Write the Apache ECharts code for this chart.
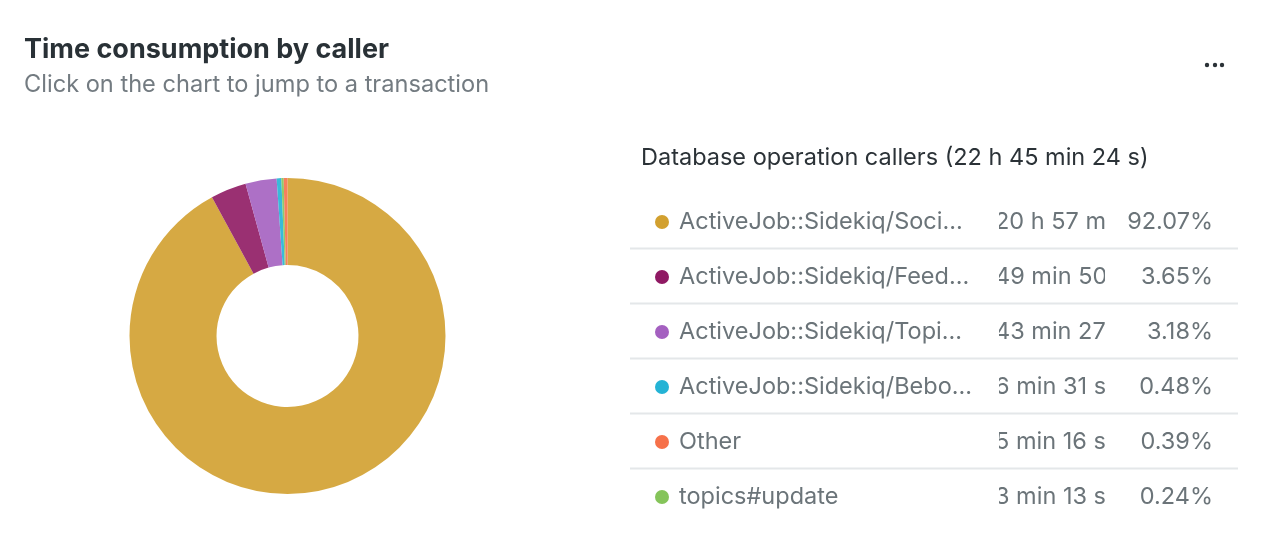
<!DOCTYPE html>
<html><head><meta charset="utf-8">
<script src="https://cdn.jsdelivr.net/npm/echarts@6/dist/echarts.min.js"></script>
<style>html,body{margin:0;padding:0;background:#fff}#c{width:1268px;height:552px}</style>
</head><body><div id="c"></div>
<script>
const callers = ['ActiveJob::Sidekiq/Soci...', 'ActiveJob::Sidekiq/Feed...', 'ActiveJob::Sidekiq/Topi...', 'ActiveJob::Sidekiq/Bebo...', 'Other', 'topics#update'];
const seconds = [75427, 2990, 2607, 391, 316, 193];
const durations = ['20 h 57 min 7 s', '49 min 50 s', '43 min 27 s', '6 min 31 s', '5 min 16 s', '3 min 13 s'];
const percents = ['92.07%', '3.65%', '3.18%', '0.48%', '0.39%', '0.24%'];
const colors = ['#D2A02F', '#8F1963', '#A460C0', '#24B3D5', '#F6714A', '#85C45A'];
const pieOrder = [0, 1, 2, 3, 5, 4];
const titleText = 'Time consumption by caller';
const subtitleText = 'Click on the chart to jump to a transaction';
const headerText = 'Database operation callers (22 h 45 min 24 s)';

const FONT = 'Inter, "Noto Sans", sans-serif';
const chart = echarts.init(document.getElementById('c'), null, {renderer: 'canvas'});

const g = [];
g.push({type: 'text', x: 24, y: 50, style: {text: titleText, fill: '#293136', font: 'bold 27px ' + FONT, textVerticalAlign: 'middle'}, silent: true});
g.push({type: 'text', x: 24, y: 85, style: {text: subtitleText, fill: '#737b81', font: '23.6px ' + FONT, textVerticalAlign: 'middle'}, silent: true});
const rowY0 = 222, rowH = 55;
const RF = '23.5px ' + FONT;
callers.forEach((name, i) => {
  const y = rowY0 + rowH * i;
  g.push({type: 'circle', shape: {cx: 662, cy: y, r: 7}, style: {fill: colors[i]}, silent: true});
  g.push({type: 'text', x: 679, y: y, style: {text: name, fill: '#6b7479', font: RF, textVerticalAlign: 'middle', textAlign: 'left'}, silent: true});
  g.push({type: 'text', x: 995, y: y, style: {text: durations[i], fill: '#6b7479', font: RF, textVerticalAlign: 'middle', textAlign: 'left'}, silent: true});
});
// clip the duration column
g.push({type: 'rect', shape: {x: 984, y: 195, width: 15, height: 320}, style: {fill: '#fff'}, silent: true});
g.push({type: 'rect', shape: {x: 1105, y: 195, width: 140, height: 320}, style: {fill: '#fff'}, silent: true});
callers.forEach((name, i) => {
  const y = rowY0 + rowH * i;
  g.push({type: 'text', x: 1213, y: y, style: {text: percents[i], fill: '#6b7479', font: RF, textVerticalAlign: 'middle', textAlign: 'right'}, silent: true});
});
for (let i = 0; i < callers.length - 1; i++) {
  const y = rowY0 + rowH * i + 26.5;
  g.push({type: 'line', shape: {x1: 630, y1: y, x2: 1238, y2: y}, style: {stroke: '#e4e7e9', lineWidth: 2}, silent: true});
}
g.push({type: 'text', x: 641, y: 158, style: {text: headerText, fill: '#2b3237', font: '23.5px ' + FONT, textVerticalAlign: 'middle'}, silent: true});
[1207, 1215, 1222].forEach(x => g.push({type: 'circle', shape: {cx: x, cy: 65, r: 2.2}, style: {fill: '#2b3237'}, silent: true}));

chart.setOption({
  animation: false,
  series: [{
    type: 'pie',
    center: [287.5, 336],
    radius: [71, 158],
    startAngle: 90,
    clockwise: true,
    label: {show: false},
    labelLine: {show: false},
    emphasis: {disabled: true},
    itemStyle: {opacity: 0.9},
    data: pieOrder.map(i => ({name: callers[i], value: seconds[i], itemStyle: {color: colors[i]}}))
  }],
  graphic: g
});
</script></body></html>
